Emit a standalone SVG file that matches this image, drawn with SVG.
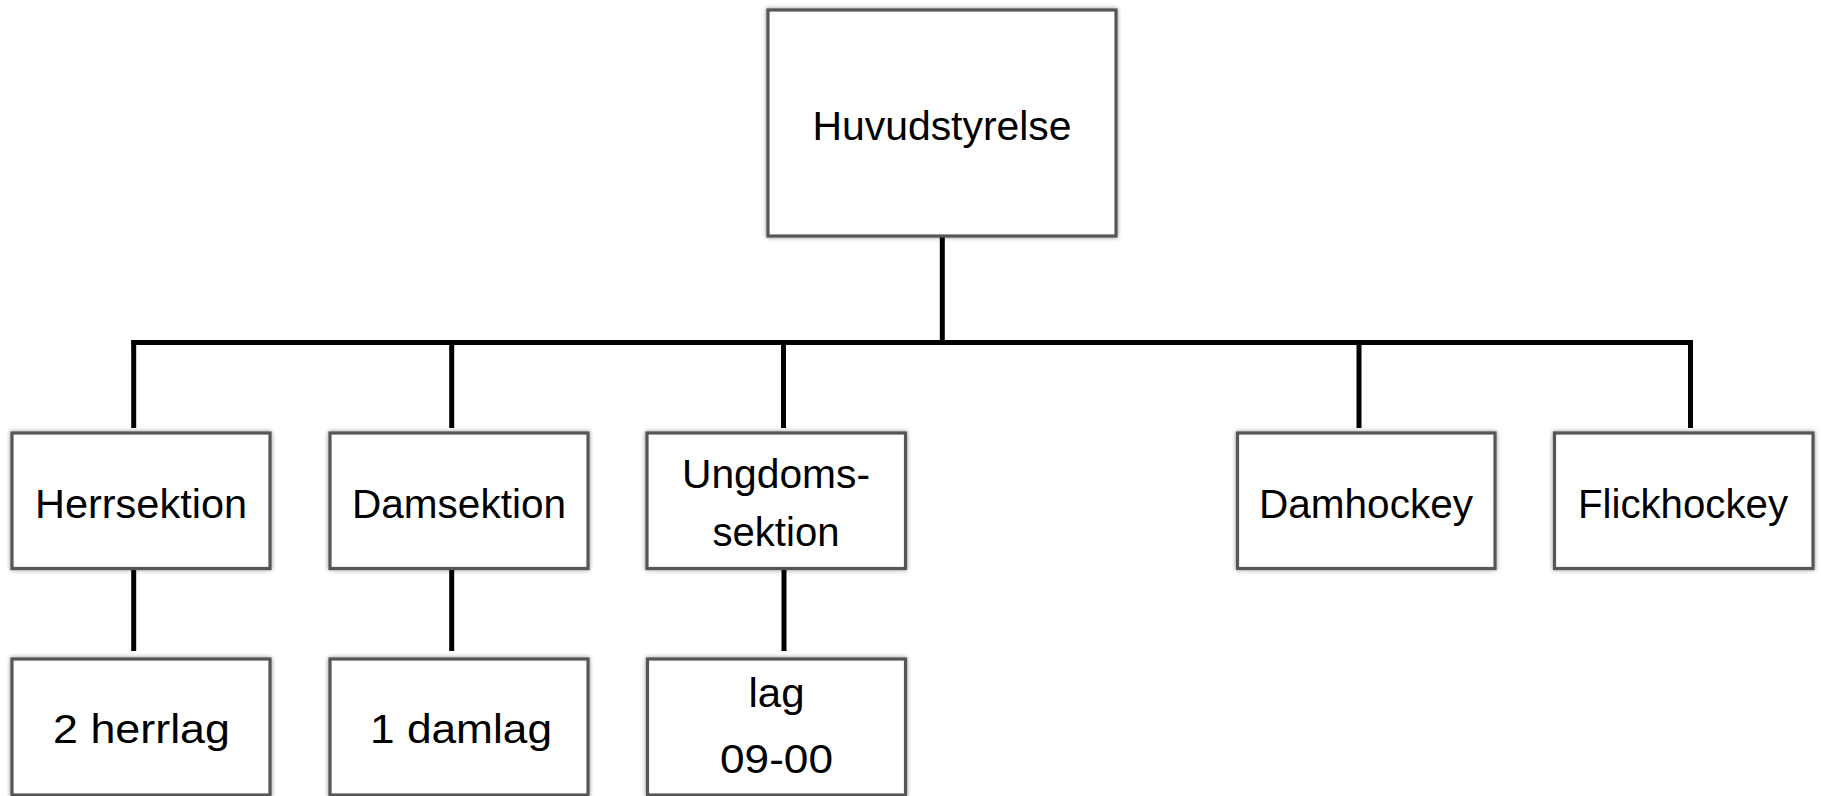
<svg xmlns="http://www.w3.org/2000/svg" width="1821" height="796" viewBox="0 0 1821 796">
<style>
.box{fill:#fff;stroke:#575757;stroke-width:3.2;filter:url(#sh)}
.lbl{font-family:"Liberation Sans",Arial,sans-serif;font-size:41px;fill:#000;text-anchor:middle}
.con{stroke:#000;stroke-width:5;fill:none}
</style>
<defs>
<filter id="sh" x="-10%" y="-10%" width="120%" height="120%">
<feDropShadow dx="0" dy="0" stdDeviation="2" flood-color="#000" flood-opacity="0.45"/>
</filter>
</defs>
<rect width="1821" height="796" fill="#fff"/>
<g id="connectors">
<path class="con" d="M942.3 236 V342.5"/>
<path class="con" d="M131.5 342.5 H1693"/>
<path class="con" d="M133.7 340 V428"/>
<path class="con" d="M451.7 340 V428"/>
<path class="con" d="M783.5 340 V428"/>
<path class="con" d="M1359 340 V428"/>
<path class="con" d="M1690.5 340 V428"/>
<path class="con" d="M133.7 568 V651"/>
<path class="con" d="M451.7 568 V651"/>
<path class="con" d="M784 568 V651"/>
</g>
<g id="huvudstyrelse">
<rect class="box" x="768" y="10" width="348" height="226"/>
<text class="lbl" x="942" y="140" textLength="259" lengthAdjust="spacingAndGlyphs">Huvudstyrelse</text>
</g>
<g id="herrsektion">
<rect class="box" x="12" y="433" width="258" height="135.5"/>
<text class="lbl" x="141" y="518" textLength="212" lengthAdjust="spacingAndGlyphs">Herrsektion</text>
</g>
<g id="damsektion">
<rect class="box" x="330" y="433" width="258" height="135.5"/>
<text class="lbl" x="459" y="518" textLength="214" lengthAdjust="spacingAndGlyphs">Damsektion</text>
</g>
<g id="ungdomssektion">
<rect class="box" x="647" y="433" width="258.5" height="135.5"/>
<text class="lbl" x="776" y="488" textLength="188" lengthAdjust="spacingAndGlyphs">Ungdoms-</text>
<text class="lbl" x="776" y="546" textLength="127" lengthAdjust="spacingAndGlyphs">sektion</text>
</g>
<g id="damhockey">
<rect class="box" x="1237.5" y="433" width="257.5" height="135.5"/>
<text class="lbl" x="1366" y="518" textLength="214" lengthAdjust="spacingAndGlyphs">Damhockey</text>
</g>
<g id="flickhockey">
<rect class="box" x="1554.5" y="433" width="258.5" height="135.5"/>
<text class="lbl" x="1683" y="518" textLength="210" lengthAdjust="spacingAndGlyphs">Flickhockey</text>
</g>
<g id="herrlag">
<rect class="box" x="12" y="659" width="258" height="136"/>
<text class="lbl" x="141.5" y="743" textLength="177" lengthAdjust="spacingAndGlyphs">2 herrlag</text>
</g>
<g id="damlag">
<rect class="box" x="330" y="659" width="258" height="136"/>
<text class="lbl" x="461" y="743" textLength="182" lengthAdjust="spacingAndGlyphs">1 damlag</text>
</g>
<g id="ungdomslag">
<rect class="box" x="647.5" y="659" width="258" height="136"/>
<text class="lbl" x="776.5" y="707" textLength="56" lengthAdjust="spacingAndGlyphs">lag</text>
<text class="lbl" x="776.5" y="773" textLength="113" lengthAdjust="spacingAndGlyphs">09-00</text>
</g>
</svg>
